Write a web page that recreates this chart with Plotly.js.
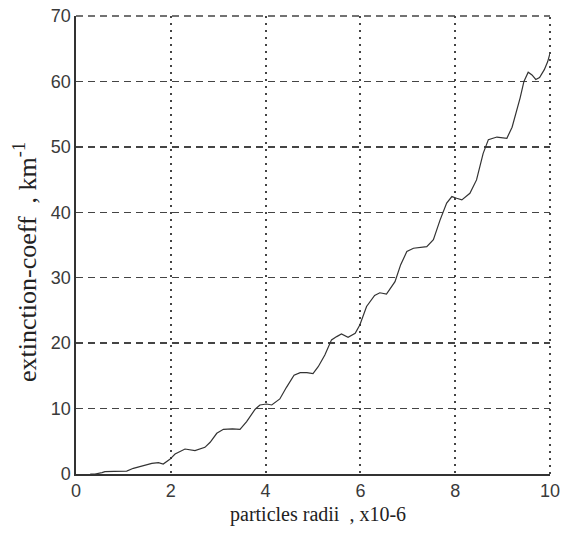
<!DOCTYPE html>
<html>
<head>
<meta charset="utf-8">
<script src="https://cdn.plot.ly/plotly-3.0.1.min.js"></script>
<style>html,body{margin:0;padding:0;background:#fff;}#chart{width:565px;height:533px;}</style>
</head>
<body>
<div id="chart"></div>
<script>
// particle radius (x10^-6)
const radii = [0.3,0.4,0.55,0.61,0.8,1.07,1.21,1.39,1.6,1.74,1.84,1.98,2.09,2.3,2.51,2.72,2.83,2.97,3.11,3.3,3.46,3.6,3.78,3.88,4.02,4.13,4.3,4.44,4.6,4.73,4.87,5.0,5.11,5.25,5.39,5.5,5.6,5.74,5.89,5.99,6.13,6.3,6.41,6.55,6.73,6.85,6.98,7.12,7.26,7.4,7.54,7.68,7.82,7.93,8.03,8.14,8.31,8.45,8.59,8.7,8.88,9.09,9.2,9.3,9.37,9.45,9.54,9.62,9.7,9.78,9.88,9.95,10];
// extinction coefficient, km^-1
const extinction = [0,0,0.2,0.35,0.4,0.45,0.87,1.27,1.63,1.73,1.53,2.24,3.06,3.82,3.57,4.08,4.85,6.22,6.83,6.9,6.83,8.0,9.9,10.55,10.7,10.55,11.47,13.25,15.1,15.5,15.5,15.35,16.4,18.2,20.5,21.0,21.4,20.9,21.5,22.8,25.6,27.3,27.7,27.5,29.4,32,34.0,34.5,34.6,34.75,35.8,38.8,41.4,42.4,42.15,41.9,42.9,44.95,49.0,51.1,51.5,51.3,53.0,55.5,57.5,60,61.4,61,60.3,60.6,61.8,63,64.3];
const xTicks = [0,2,4,6,8,10];
const yTicks = [0,10,20,30,40,50,60,70];
const xTitle = 'particles radii&nbsp; , x10-6';
const yTitle = 'extinction-coeff&nbsp; , km<sup>-1</sup>';

const trace = {
  x: radii, y: extinction, type: 'scatter', mode: 'lines',
  line: {color: '#333', width: 1.2},
  hoverinfo: 'none'
};

const tickFont = {family: 'Liberation Sans, Arial, sans-serif', size: 18, color: '#3a3a3a'};
const serif = 'Liberation Serif, Times New Roman, serif';
const gridColor = '#444';

const layout = {
  width: 565, height: 533,
  margin: {l: 76, r: 15, t: 16, b: 59},
  paper_bgcolor: '#fff', plot_bgcolor: '#fff',
  showlegend: false,
  xaxis: {
    range: [0, 10], tickvals: xTicks, ticktext: xTicks.map(String),
    showgrid: true, gridcolor: gridColor, gridwidth: 2, griddash: '2px,5px',
    zeroline: false, showline: true, linecolor: '#333', linewidth: 1.6,
    ticks: '', tickfont: tickFont
  },
  yaxis: {
    range: [0, 70], tickvals: yTicks, ticktext: yTicks.map(String),
    showgrid: true, gridcolor: gridColor, gridwidth: 1.5, griddash: '7px,5px',
    zeroline: false, showline: true, linecolor: '#333', linewidth: 1.6,
    ticks: '', tickfont: tickFont
  },
  shapes: [
    // top edge: dashed like the horizontal grid
    {type: 'line', xref: 'paper', yref: 'paper', x0: 0, x1: 1, y0: 1, y1: 1,
     line: {color: gridColor, width: 1.5, dash: '7px,5px'}},
    // right edge: dotted like the vertical grid
    {type: 'line', xref: 'paper', yref: 'paper', x0: 1, x1: 1, y0: 0, y1: 1,
     line: {color: gridColor, width: 2, dash: '2px,5px'}}
  ],
  annotations: [
    {text: xTitle, xref: 'paper', yref: 'paper', x: 0.51, y: 0, xanchor: 'center', yanchor: 'middle',
     yshift: -40, showarrow: false, font: {family: serif, size: 20, color: '#222'}},
    {text: yTitle, xref: 'paper', yref: 'paper', x: 0, y: 0.463, xanchor: 'center', yanchor: 'middle',
     xshift: -50, textangle: -90, showarrow: false, font: {family: serif, size: 26, color: '#222'}}
  ]
};

Plotly.newPlot('chart', [trace], layout, {displayModeBar: false, staticPlot: true});
</script>
</body>
</html>
